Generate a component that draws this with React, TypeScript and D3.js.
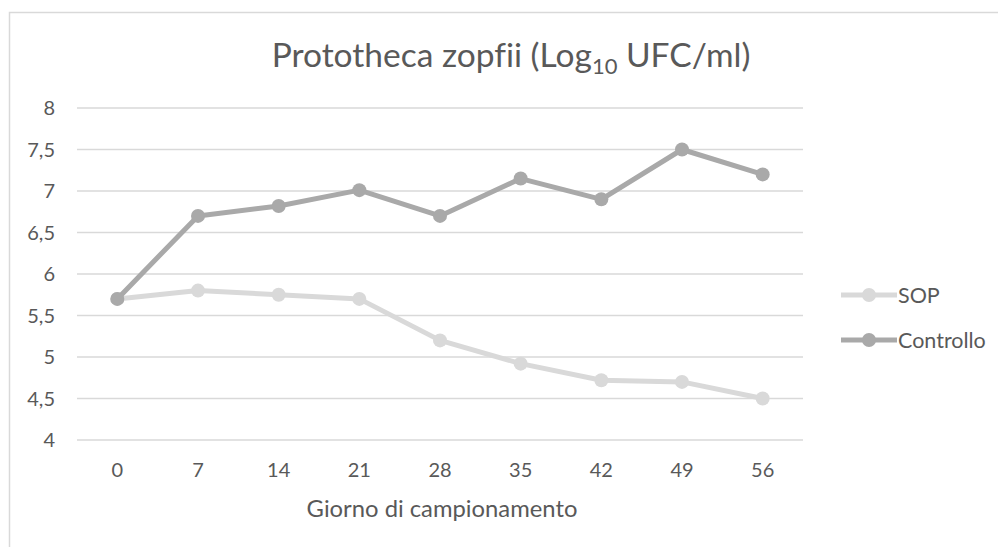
import { useRef, useEffect } from 'react'
import * as d3 from 'd3'

const days = ['0', '7', '14', '21', '28', '35', '42', '49', '56']
const sop = [5.7, 5.8, 5.75, 5.7, 5.2, 4.92, 4.72, 4.7, 4.5]
const controllo = [5.7, 6.7, 6.82, 7.01, 6.7, 7.15, 6.9, 7.5, 7.2]
const yTicks = [4, 4.5, 5, 5.5, 6, 6.5, 7, 7.5, 8]
const seriesNames = ['SOP', 'Controllo']
const seriesColors = ['#d9d9d9', '#a9a9a9']

const FONT = "Lato, 'Open Sans', sans-serif"

const App = () => {
  const ref = useRef<SVGSVGElement>(null)

  useEffect(() => {
    const svg = d3.select(ref.current)
    svg.selectAll('*').remove()

    const left = 77, right = 803, top = 108, bottom = 440

    // frame
    svg.append('rect')
      .attr('x', 9.5).attr('y', 12.5)
      .attr('width', 1100).attr('height', 700)
      .attr('fill', '#fff')
      .attr('stroke', '#d9d9d9')
      .attr('stroke-width', 1.5)

    const x = d3.scaleBand().domain(days).range([left, right])
    const y = d3.scaleLinear().domain([4, 8]).range([bottom, top])

    // grid
    svg.append('g').selectAll('line')
      .data(yTicks).enter().append('line')
      .attr('x1', left).attr('x2', right)
      .attr('y1', d => y(d)).attr('y2', d => y(d))
      .attr('stroke', '#d9d9d9').attr('stroke-width', 1.5)

    // y labels
    svg.append('g').selectAll('text')
      .data(yTicks).enter().append('text')
      .attr('x', 55).attr('y', d => y(d))
      .attr('dy', '0.35em')
      .attr('text-anchor', 'end')
      .attr('font-family', FONT).attr('font-size', 20)
      .attr('fill', '#595959')
      .text(d => String(d).replace('.', ','))

    // x labels
    svg.append('g').selectAll('text')
      .data(days).enter().append('text')
      .attr('x', d => x(d)! + x.bandwidth() / 2)
      .attr('y', 470)
      .attr('dy', '0.35em')
      .attr('text-anchor', 'middle')
      .attr('font-family', FONT).attr('font-size', 20)
      .attr('fill', '#595959')
      .text(d => d)

    svg.append('text')
      .attr('x', 442).attr('y', 517)
      .attr('text-anchor', 'middle')
      .attr('font-family', FONT).attr('font-size', 23.8)
      .attr('fill', '#595959')
      .text('Giorno di campionamento')

    // title
    const title = svg.append('text')
      .attr('x', 511).attr('y', 67)
      .attr('text-anchor', 'middle')
      .attr('font-family', FONT).attr('font-size', 33.5)
      .attr('fill', '#595959')
      .style('font-variant-ligatures', 'none')
    title.append('tspan').text('Prototheca zopfii (Log')
    title.append('tspan').attr('font-size', 22).attr('dy', 7).text('10')
    title.append('tspan').attr('dy', -7).text(' UFC/ml)')

    // lines
    const line = d3.line<number>()
      .x((d, i) => x(days[i])! + x.bandwidth() / 2)
      .y(d => y(d))

    const all = [sop, controllo]
    all.forEach((vals, s) => {
      svg.append('path')
        .datum(vals)
        .attr('fill', 'none')
        .attr('stroke', seriesColors[s])
        .attr('stroke-width', 5)
        .attr('stroke-linejoin', 'round')
        .attr('d', line)
      svg.append('g').selectAll('circle')
        .data(vals).enter().append('circle')
        .attr('cx', (d, i) => x(days[i])! + x.bandwidth() / 2)
        .attr('cy', d => y(d))
        .attr('r', 7)
        .attr('fill', seriesColors[s])
    })

    // legend
    seriesNames.forEach((name, s) => {
      const ly = 295 + s * 45
      const g = svg.append('g')
      g.append('line')
        .attr('x1', 841).attr('x2', 897)
        .attr('y1', ly).attr('y2', ly)
        .attr('stroke', seriesColors[s]).attr('stroke-width', 5)
      g.append('circle')
        .attr('cx', 869).attr('cy', ly).attr('r', 7)
        .attr('fill', seriesColors[s])
      g.append('text')
        .attr('x', 898).attr('y', ly)
        .attr('dy', '0.35em')
        .attr('font-family', FONT).attr('font-size', 21.5)
        .attr('fill', '#595959')
        .text(name)
    })
  }, [])

  return (
    <svg ref={ref} width={998} height={547}
      style={{ position: 'absolute', left: 0, top: 0, background: '#fff' }} />
  )
}

export default App
